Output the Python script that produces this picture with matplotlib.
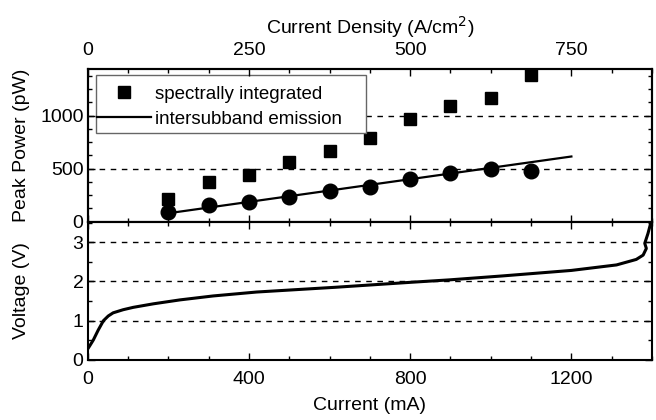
"""
Peak power and I-V characteristic of the emitter.
"""

import matplotlib
matplotlib.use("Agg")
import matplotlib.pyplot as plt
from matplotlib.patches import Rectangle
from matplotlib.ticker import MultipleLocator

plt.rcParams['font.family'] = ['Liberation Sans', 'DejaVu Sans']
plt.rcParams['font.size'] = 13

# Peak power data (current in mA, power in pW)
current_pts = [200, 300, 400, 500, 600, 700, 800, 900, 1000, 1100]
spectral_power = [213, 378, 440, 562, 663, 788, 968, 1088, 1170, 1385]
intersub_power = [89, 158, 190, 237, 288, 328, 404, 458, 496, 480]

# Linear fit to the intersubband emission
fit_current = [200, 1200]
fit_power = [80, 615]

# I-V curve
iv_current = [0, 5, 14, 26, 39, 51, 63, 88, 113, 163, 229, 311, 419, 613, 805, 898,
              1029, 1200, 1312, 1361, 1378, 1386, 1382, 1390, 1397]
iv_voltage = [0.28, 0.36, 0.51, 0.76, 1.0, 1.12, 1.2, 1.28, 1.34, 1.43, 1.53, 1.63,
              1.73, 1.85, 1.98, 2.04, 2.14, 2.28, 2.42, 2.56, 2.67, 2.84, 2.97,
              3.22, 3.49]

# A/cm^2 per mA
density_factor = 0.625

fig = plt.figure(figsize=(6.56, 4.2), dpi=100)
ax_p = fig.add_axes([0.1337, 0.4721, 0.8602, 0.3636])
ax_v = fig.add_axes([0.1337, 0.1429, 0.8602, 0.3292], sharex=ax_p)

# Top panel: peak power
ax_p.plot(current_pts, spectral_power, 's', color='black', markersize=9,
          label='spectrally integrated', clip_on=False, zorder=3)
ax_p.plot(current_pts, intersub_power, 'o', color='black', markersize=10.5,
          clip_on=False, zorder=3)
ax_p.plot(fit_current, fit_power, '-', color='black', linewidth=1.6,
          label='intersubband emission')
for y in [500, 1000]:
    ax_p.axhline(y, color='black', linestyle=(0, (4, 4)), linewidth=1)
ax_p.set_ylim(0, 1440)
ax_p.set_xlim(0, 1400)
ax_p.yaxis.set_major_locator(MultipleLocator(500))
ax_p.yaxis.set_minor_locator(MultipleLocator(125))
ax_p.set_ylabel('Peak Power (pW)', fontsize=14)
ax_p.tick_params(axis='x', labelbottom=False)

# legend without its own frame; the box is drawn separately (wider on the right)
leg = ax_p.legend(loc='upper left', bbox_to_anchor=(0.0165, 0.89), fontsize=13.5,
                  frameon=False, handlelength=2.9, handletextpad=0.2,
                  borderpad=0, labelspacing=0.41, borderaxespad=0)
box = Rectangle((0.0147, 0.581), 0.4785, 0.38, transform=ax_p.transAxes,
                fill=True, facecolor='white', edgecolor='0.4', linewidth=1,
                zorder=4)
ax_p.add_patch(box)
leg.set_zorder(5)

# Current density axis on top
ax_top = ax_p.twiny()
ax_top.set_xlim(0, 1400 * density_factor)
ax_top.xaxis.set_major_locator(MultipleLocator(250))
ax_top.xaxis.set_minor_locator(MultipleLocator(62.5))
ax_top.set_xlabel('Current Density (A/cm$^2$)', fontsize=14)

# Bottom panel: voltage
ax_v.plot(iv_current, iv_voltage, '-', color='black', linewidth=2.2)
for y in [1, 2, 3]:
    ax_v.axhline(y, color='black', linestyle=(0, (4, 4)), linewidth=1)
ax_v.set_ylim(0, 3.52)
ax_v.yaxis.set_major_locator(MultipleLocator(1))
ax_v.yaxis.set_minor_locator(MultipleLocator(0.5))
ax_v.xaxis.set_major_locator(MultipleLocator(400))
ax_v.xaxis.set_minor_locator(MultipleLocator(100))
ax_v.set_xlabel('Current (mA)', fontsize=14)
ax_v.set_ylabel('Voltage (V)', fontsize=14)

for ax in [ax_p, ax_v, ax_top]:
    for s in ax.spines.values():
        s.set_linewidth(1.5)
    ax.tick_params(which='both', direction='in', labelsize=14, width=1)
    ax.tick_params(which='major', length=5)
    ax.tick_params(which='minor', length=3)
ax_p.tick_params(which='both', right=True, top=False)
ax_p.tick_params(axis='y', pad=3)
ax_v.tick_params(which='both', right=True, top=True)
ax_v.tick_params(axis='y', pad=3)
ax_v.tick_params(axis='x', pad=8)
ax_top.tick_params(axis='x', pad=7)

ax_p.yaxis.set_label_coords(-0.102, 0.5)
ax_v.yaxis.set_label_coords(-0.102, 0.5)
ax_top.xaxis.set_label_coords(0.5, 1.23)
ax_v.xaxis.set_label_coords(0.5, -0.27)

fig.savefig('out.png', dpi=100)
